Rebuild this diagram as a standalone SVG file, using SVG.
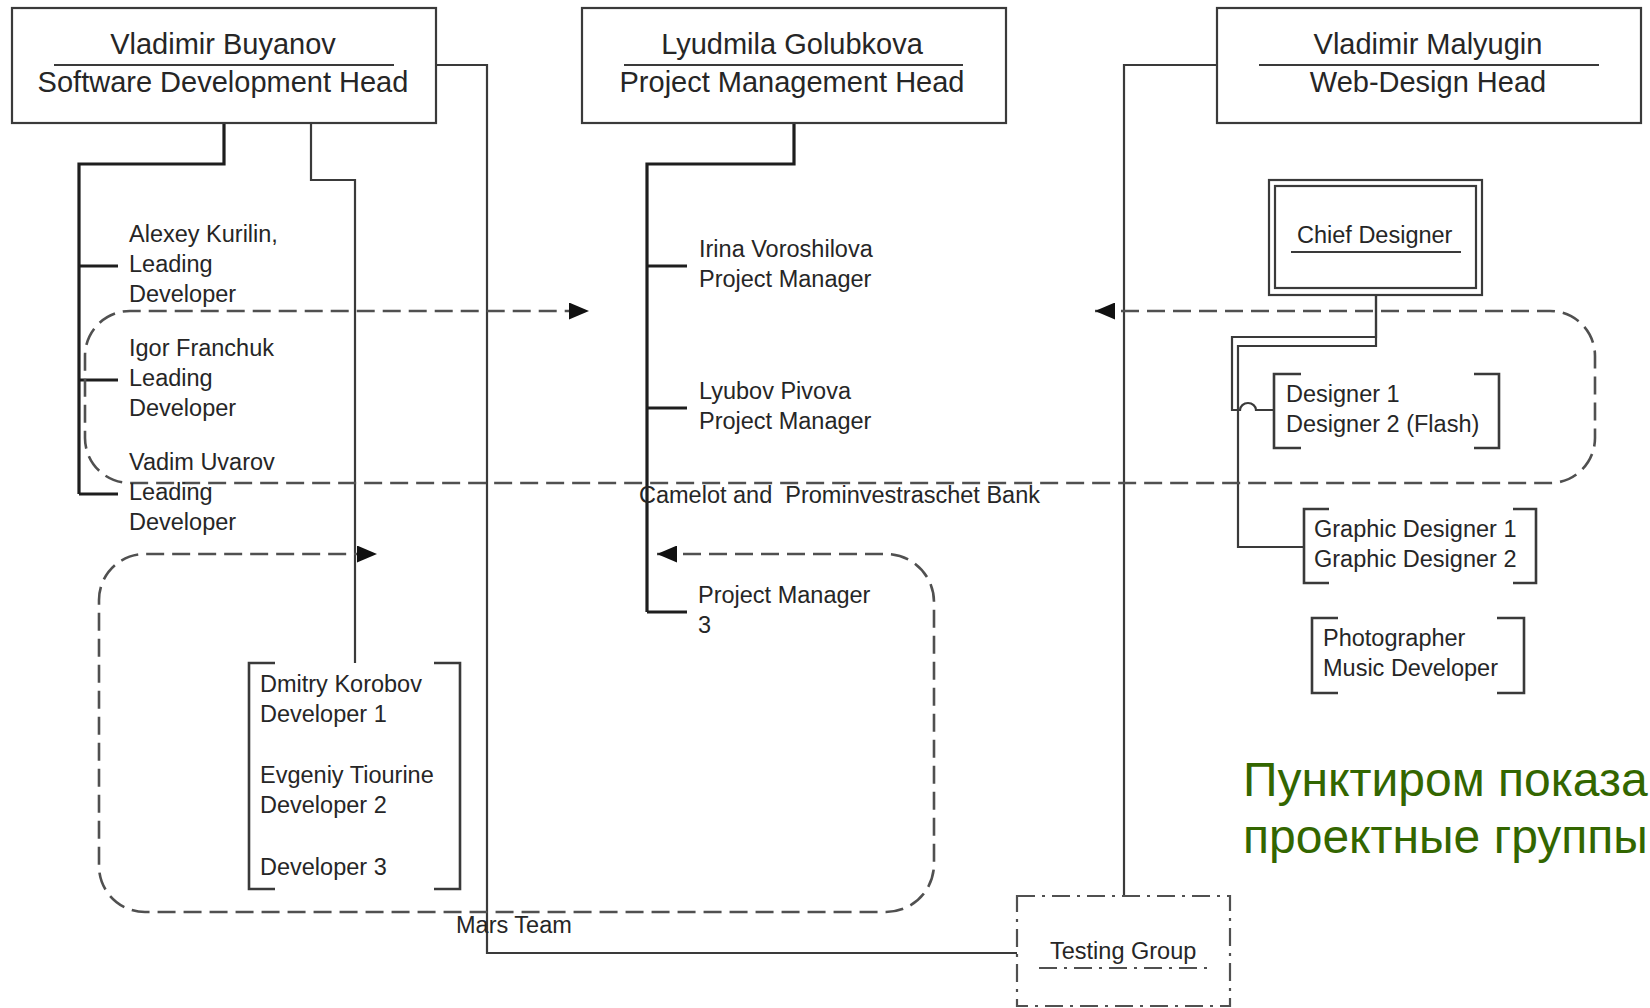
<svg xmlns="http://www.w3.org/2000/svg" width="1650" height="1008" viewBox="0 0 1650 1008">
  <defs>
    <marker id="arrow" markerUnits="userSpaceOnUse" markerWidth="20" markerHeight="17" refX="20" refY="8.5" orient="auto-start-reverse" viewBox="0 0 20 17">
      <path d="M0,0 L20,8.5 L0,17 z" fill="#111"/>
    </marker>
  </defs>
  <style>
    .t{font-family:"Liberation Sans",Arial,sans-serif;font-size:23.5px;fill:#262626}
    .h{font-family:"Liberation Sans",Arial,sans-serif;font-size:29px;fill:#262626;text-anchor:middle}
    .box{fill:#fff;stroke:#3a3a3a;stroke-width:2.2}
    .rule{stroke:#3a3a3a;stroke-width:2.2}
    .thick{fill:none;stroke:#1e1e1e;stroke-width:3.2}
    .thin{fill:none;stroke:#3a3a3a;stroke-width:2.2}
    .bracket{fill:none;stroke:#3a3a3a;stroke-width:2.6}
    .group{fill:none;stroke:#505050;stroke-width:2.6;stroke-dasharray:18 8}
    .dashdot{fill:none;stroke:#505050;stroke-width:2.2;stroke-dasharray:18 7 3 7}
    .note{font-family:"Liberation Sans",Arial,sans-serif;font-size:48px;fill:#336600}
  </style>

  <rect width="1650" height="1008" fill="#fff"/>

  <!-- reporting lines -->
  <g id="connectors">
    <!-- Software Development Head -> leading developers -->
    <path class="thick" d="M224,123 V164 H79 V494"/>
    <path class="thick" d="M79,266 H118 M79,380 H118 M79,494 H118"/>
    <!-- Software Development Head -> developers -->
    <path class="thin" d="M311,123 V180 H355 V663"/>
    <!-- Software Development Head -> Testing Group -->
    <path class="thin" d="M436,65 H487 V953 H1017"/>
    <!-- Project Management Head -> project managers -->
    <path class="thick" d="M794,123 V164 H647 V612"/>
    <path class="thick" d="M647,266 H687 M647,408 H687 M647,612 H687"/>
    <!-- Web-Design Head -> Testing Group -->
    <path class="thin" d="M1217,65 H1124 V896"/>
    <!-- Chief Designer -> designers -->
    <path class="thin" d="M1376,295 V337 H1232 V410 H1240 a8,7 0 0 1 16,0 H1274"/>
    <path class="thin" d="M1376,295 V346 H1238 V547 H1304"/>
  </g>

  <!-- project teams -->
  <g id="project-groups">
    <g id="group-camelot">
      <path class="group" marker-start="url(#arrow)" marker-end="url(#arrow)"
            d="M1095,311 H1550 A45,45 0 0 1 1595,356 V438 A45,45 0 0 1 1550,483 H130 A45,45 0 0 1 85,438 V356 A45,45 0 0 1 130,311 H589"/>
      <text class="t" x="639" y="503" xml:space="preserve" style="white-space:pre">Camelot and  Prominvestraschet Bank</text>
    </g>
    <g id="group-mars">
      <path class="group" marker-start="url(#arrow)" marker-end="url(#arrow)"
            d="M657,554 H886 A48,48 0 0 1 934,602 V864 A48,48 0 0 1 886,912 H145 A46,46 0 0 1 99,866 V600 A46,46 0 0 1 145,554 H377"/>
      <text class="t" x="456" y="933">Mars Team</text>
    </g>
  </g>

  <!-- department heads -->
  <g id="head-software">
    <rect class="box" x="12" y="8" width="424" height="115"/>
    <line class="rule" x1="54" y1="65" x2="394" y2="65"/>
    <text class="h" x="223" y="54">Vladimir Buyanov</text>
    <text class="h" x="223" y="92">Software Development Head</text>
  </g>
  <g id="head-projects">
    <rect class="box" x="582" y="8" width="424" height="115"/>
    <line class="rule" x1="624" y1="65" x2="963" y2="65"/>
    <text class="h" x="792" y="54">Lyudmila Golubkova</text>
    <text class="h" x="792" y="92">Project Management Head</text>
  </g>
  <g id="head-webdesign">
    <rect class="box" x="1217" y="8" width="424" height="115"/>
    <line class="rule" x1="1259" y1="65" x2="1599" y2="65"/>
    <text class="h" x="1428" y="54">Vladimir Malyugin</text>
    <text class="h" x="1428" y="92">Web-Design Head</text>
  </g>

  <!-- leading developers -->
  <g id="dev-kurilin">
    <text class="t" x="129" y="242">Alexey Kurilin,</text>
    <text class="t" x="129" y="272">Leading</text>
    <text class="t" x="129" y="302">Developer</text>
  </g>
  <g id="dev-franchuk">
    <text class="t" x="129" y="356">Igor Franchuk</text>
    <text class="t" x="129" y="386">Leading</text>
    <text class="t" x="129" y="416">Developer</text>
  </g>
  <g id="dev-uvarov">
    <text class="t" x="129" y="470">Vadim Uvarov</text>
    <text class="t" x="129" y="500">Leading</text>
    <text class="t" x="129" y="530">Developer</text>
  </g>

  <!-- developers -->
  <g id="developers">
    <path class="bracket" d="M275,663 H249 V889 H275 M434,663 H460 V889 H434"/>
    <text class="t" x="260" y="692">Dmitry Korobov</text>
    <text class="t" x="260" y="722">Developer 1</text>
    <text class="t" x="260" y="783">Evgeniy Tiourine</text>
    <text class="t" x="260" y="813">Developer 2</text>
    <text class="t" x="260" y="875">Developer 3</text>
  </g>

  <!-- project managers -->
  <g id="pm-voroshilova">
    <text class="t" x="699" y="257">Irina Voroshilova</text>
    <text class="t" x="699" y="287">Project Manager</text>
  </g>
  <g id="pm-pivova">
    <text class="t" x="699" y="399">Lyubov Pivova</text>
    <text class="t" x="699" y="429">Project Manager</text>
  </g>
  <g id="pm-3">
    <text class="t" x="698" y="603">Project Manager</text>
    <text class="t" x="698" y="633">3</text>
  </g>

  <!-- web design -->
  <g id="chief-designer">
    <rect class="box" x="1269" y="180" width="213" height="115"/>
    <rect class="box" x="1275" y="186" width="201" height="102"/>
    <text class="t" x="1297" y="243">Chief Designer</text>
    <line class="rule" x1="1291" y1="252" x2="1461" y2="252"/>
  </g>
  <g id="designers">
    <path class="bracket" d="M1301,374 H1274 V448 H1301 M1474,374 H1499 V448 H1474"/>
    <text class="t" x="1286" y="402">Designer 1</text>
    <text class="t" x="1286" y="432">Designer 2 (Flash)</text>
  </g>
  <g id="graphic-designers">
    <path class="bracket" d="M1329,509 H1304 V583 H1329 M1513,509 H1536 V583 H1513"/>
    <text class="t" x="1314" y="537">Graphic Designer 1</text>
    <text class="t" x="1314" y="567">Graphic Designer 2</text>
  </g>
  <g id="media">
    <path class="bracket" d="M1338,618 H1312 V693 H1338 M1497,618 H1524 V693 H1497"/>
    <text class="t" x="1323" y="646">Photographer</text>
    <text class="t" x="1323" y="676">Music Developer</text>
  </g>

  <!-- testing -->
  <g id="testing-group">
    <rect class="dashdot" x="1017" y="896" width="213" height="110"/>
    <text class="t" x="1050" y="959">Testing Group</text>
    <line class="dashdot" x1="1039" y1="968" x2="1207" y2="968"/>
  </g>

  <!-- legend -->
  <g id="legend">
    <text class="note" x="1243" y="796">Пунктиром показаны</text>
    <text class="note" x="1243" y="853">проектные группы</text>
  </g>
</svg>
